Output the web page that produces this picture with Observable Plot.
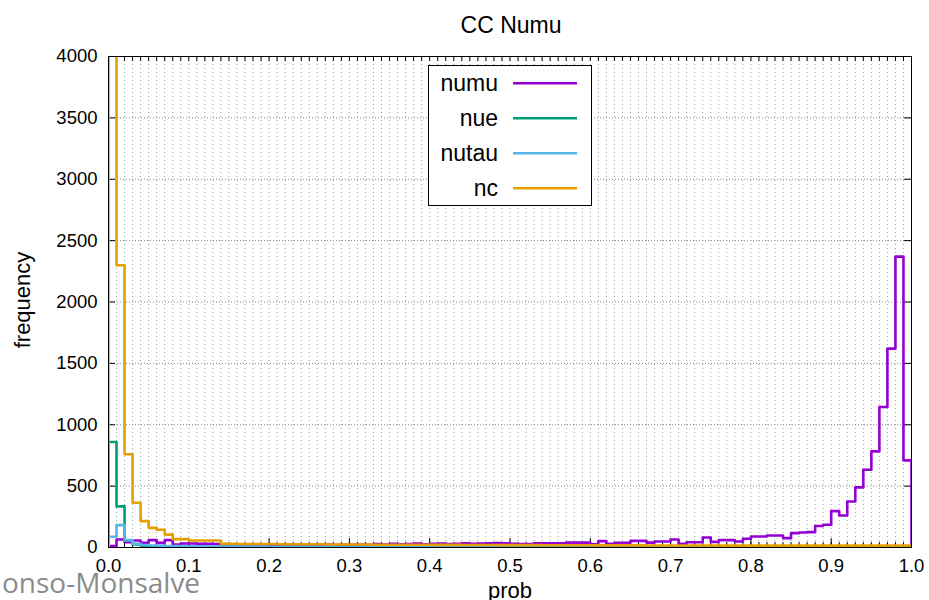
<!DOCTYPE html>
<html>
<head>
<meta charset="utf-8">
<script src="https://cdn.jsdelivr.net/npm/d3@7"></script>
<script src="https://cdn.jsdelivr.net/npm/@observablehq/plot@0.6"></script>
<style>
  html, body { margin: 0; padding: 0; background: white; }
  #wrap { position: relative; width: 929px; height: 600px; overflow: hidden; }
  #wrap svg { position: absolute; left: 0; top: 0; }
</style>
</head>
<body>
<div id="wrap"></div>
<script>
// ---- data (counts per bin of width 0.01, bins 0.00 .. 0.99) ----
const seriesNames = ["numu", "nue", "nutau", "nc"];
const seriesColors = ["#9400d3", "#009e73", "#56b4e9", "#e69f00"];

const numu = [
  11, 65, 44, 57, 38, 60, 38, 60, 24, 33,
  33, 30, 30, 28, 22, 20, 25, 18, 22, 24,
  20, 19, 23, 21, 20, 18, 22, 25, 20, 23,
  21, 25, 22, 28, 24, 30, 26, 28, 32, 27,
  30, 33, 29, 31, 35, 30, 33, 35, 36, 34,
  30, 28, 28, 35, 35, 35, 35, 40, 40, 40,
  27, 52, 30, 38, 38, 54, 54, 40, 49, 49,
  65, 30, 43, 43, 82, 46, 60, 60, 49, 71,
  90, 90, 98, 98, 76, 117, 122, 125, 175, 185,
  296, 261, 375, 490, 633, 783, 1145, 1620, 2370, 710
];
const nue = [
  860, 335, 55, 25, 14, 9, 7, 6, 5, 5,
  4, 4, 4, 3, 3, 3, 3, 3, 2, 2,
  2, 2, 2, 2, 2, 2, 2, 2, 2, 2,
  2, 2, 2, 2, 2, 2, 2, 2, 2, 2,
  2, 2, 2, 2, 2, 2, 2, 2, 2, 2,
  2, 2, 2, 2, 2, 2, 2, 2, 2, 2,
  2, 2, 2, 2, 2, 2, 2, 2, 2, 2,
  2, 2, 2, 2, 2, 2, 2, 2, 3, 3,
  3, 3, 3, 3, 3, 3, 3, 4, 4, 4,
  4, 5, 5, 6, 6, 7, 8, 9, 10, 8
];
const nutau = [
  88, 182, 60, 30, 20, 16, 14, 12, 11, 10,
  9, 9, 8, 8, 8, 7, 7, 7, 7, 6,
  6, 6, 6, 6, 6, 5, 5, 5, 5, 5,
  5, 5, 5, 5, 5, 5, 5, 5, 5, 5,
  5, 5, 4, 4, 4, 4, 4, 4, 4, 4,
  4, 4, 4, 4, 4, 4, 4, 4, 4, 4,
  4, 4, 4, 4, 4, 4, 4, 4, 4, 4,
  4, 4, 4, 4, 4, 4, 4, 4, 4, 4,
  4, 4, 4, 4, 4, 4, 4, 4, 4, 4,
  4, 4, 4, 5, 5, 5, 6, 6, 7, 6
];
const nc = [
  9000, 2300, 760, 365, 215, 160, 145, 105, 68, 68,
  57, 57, 57, 57, 30, 30, 29, 29, 28, 28,
  28, 27, 27, 27, 26, 26, 26, 25, 25, 25,
  24, 24, 24, 23, 23, 23, 22, 22, 22, 22,
  21, 21, 21, 21, 20, 20, 20, 20, 20, 19,
  19, 19, 19, 19, 18, 18, 18, 18, 18, 18,
  17, 17, 17, 17, 17, 17, 17, 16, 16, 16,
  16, 16, 16, 16, 16, 16, 15, 15, 15, 15,
  15, 15, 15, 15, 15, 15, 15, 15, 15, 15,
  15, 15, 15, 15, 15, 15, 15, 16, 16, 16
];
const seriesValues = [numu, nue, nutau, nc];

const xTickValues = [0, 0.1, 0.2, 0.3, 0.4, 0.5, 0.6, 0.7, 0.8, 0.9, 1.0];
const yTickValues = [0, 500, 1000, 1500, 2000, 2500, 3000, 3500, 4000];
const binWidth = 0.01;
const nBins = 100;

// ---- build step outlines ----
const rows = [];
seriesNames.forEach((name, s) => {
  const v = seriesValues[s];
  rows.push({series: name, x: 0, y: 0});
  for (let i = 0; i < nBins; i++) rows.push({series: name, x: i * binWidth, y: v[i]});
  rows.push({series: name, x: nBins * binWidth, y: v[nBins - 1]});
  rows.push({series: name, x: nBins * binWidth, y: 0});
});
const minorX = d3.range(0, nBins + 1).map(i => i * binWidth);

const W = 929, H = 600;
const mL = 108, mR = 18, mT = 56, mB = 53;
const pxX = 1 / (W - mL - mR);          // data units per pixel (x)
const pxY = 4000 / (H - mT - mB);       // data units per pixel (y)

const chart = Plot.plot({
  width: W, height: H,
  marginLeft: mL, marginRight: mR, marginTop: mT, marginBottom: mB,
  style: {fontFamily: "'Liberation Sans', Arial, sans-serif", fontSize: "18.5px", color: "black", background: "white"},
  x: {domain: [0, 1], label: null},
  y: {domain: [0, 4000], label: null},
  color: {domain: seriesNames, range: seriesColors},
  marks: [
    // grid
    Plot.ruleX(minorX, {x: d => d, stroke: "#9a9a9a", strokeWidth: 1, strokeDasharray: "1,3"}),
    Plot.ruleY(yTickValues, {y: d => d, stroke: "#8a8a8a", strokeWidth: 1, strokeDasharray: "1,2"}),
    // inward ticks
    Plot.ruleX(minorX, {x: d => d, y1: 0, y2: 5 * pxY, stroke: "black", strokeWidth: 1}),
    Plot.ruleX(xTickValues, {x: d => d, y1: 0, y2: 9 * pxY, stroke: "black", strokeWidth: 1}),
    Plot.ruleX(minorX, {x: d => d, y1: 4000, y2: 4000 - 5 * pxY, stroke: "black", strokeWidth: 1}),
    Plot.ruleY(yTickValues, {y: d => d, x1: 0, x2: 7 * pxX, stroke: "black", strokeWidth: 1}),
    Plot.ruleY(yTickValues, {y: d => d, x1: 1, x2: 1 - 7 * pxX, stroke: "black", strokeWidth: 1}),
    // histograms
    Plot.line(rows, {x: "x", y: "y", z: "series", stroke: "series", curve: "step-after", strokeWidth: 2.6, clip: true}),
    Plot.frame({stroke: "black", strokeWidth: 1}),
    Plot.axisX({ticks: xTickValues, tickSize: 0, tickPadding: 11, tickFormat: d3.format(".1f"), label: null}),
    Plot.axisY({ticks: yTickValues, tickSize: 0, tickPadding: 11, tickFormat: d3.format("d"), label: null})
  ]
});
const wrap = document.getElementById("wrap");
wrap.appendChild(chart);

// ---- overlay texts and legend ----
const ns = "http://www.w3.org/2000/svg";
const ov = document.createElementNS(ns, "svg");
ov.setAttribute("width", W); ov.setAttribute("height", H);
ov.style.pointerEvents = "none";
wrap.appendChild(ov);
function txt(str, x, y, opts = {}) {
  const t = document.createElementNS(ns, "text");
  t.textContent = str;
  t.setAttribute("x", x); t.setAttribute("y", y);
  t.setAttribute("font-family", opts.family || "'Liberation Sans', Arial, sans-serif");
  t.setAttribute("font-size", opts.size || 22);
  t.setAttribute("fill", opts.fill || "black");
  t.setAttribute("text-anchor", opts.anchor || "start");
  if (opts.transform) t.setAttribute("transform", opts.transform);
  ov.appendChild(t);
  return t;
}
txt("CC Numu", 511, 33, {size: 23, anchor: "middle"});
txt("prob", 510, 598, {size: 22, anchor: "middle"});
txt("frequency", 0, 0, {size: 22, anchor: "middle", transform: "translate(30,300) rotate(-90)"});
txt("onso-Monsalve", 2, 593, {size: 28, fill: "#8b8b8b", family: "'Open Sans', 'Noto Sans', sans-serif"});

// legend
const lg = document.createElementNS(ns, "rect");
lg.setAttribute("x", 428.5); lg.setAttribute("y", 65.5);
lg.setAttribute("width", 163); lg.setAttribute("height", 140);
lg.setAttribute("fill", "white"); lg.setAttribute("stroke", "black"); lg.setAttribute("stroke-width", 1);
ov.appendChild(lg);
const rowY = [83.3, 118.3, 153.3, 188.3];
seriesNames.forEach((name, i) => {
  txt(name, 498, rowY[i] + 8, {size: 23, anchor: "end"});
  const l = document.createElementNS(ns, "line");
  l.setAttribute("x1", 513); l.setAttribute("x2", 577);
  l.setAttribute("y1", rowY[i]); l.setAttribute("y2", rowY[i]);
  l.setAttribute("stroke", seriesColors[i]); l.setAttribute("stroke-width", 2.6);
  ov.appendChild(l);
});
</script>
</body>
</html>
